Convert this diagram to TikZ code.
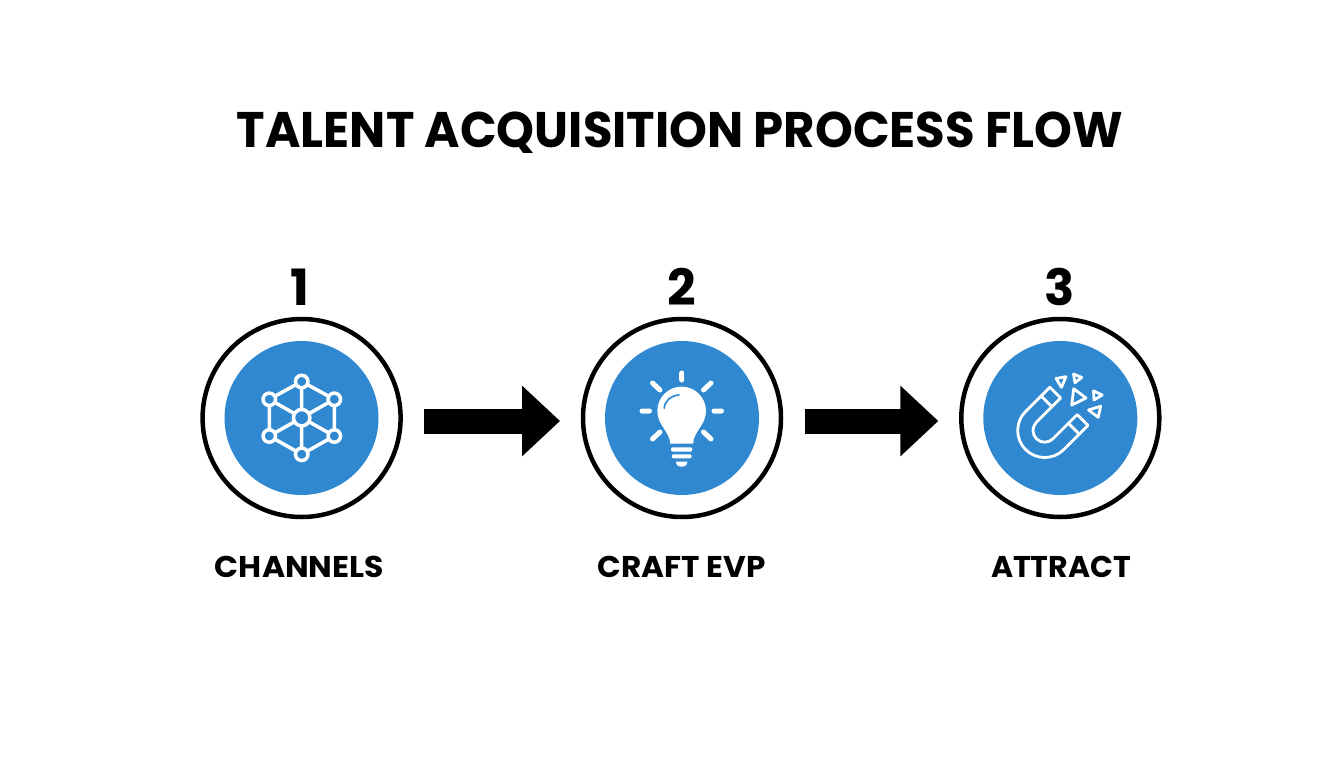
\documentclass[tikz,border=0pt]{standalone}
\usepackage{fontspec}
\setmainfont{Poppins}
\usetikzlibrary{arrows.meta,calc}
\definecolor{blu}{HTML}{2F88D0}
\tikzset{
 x=1pt,y=-1pt,
 ttl/.style={font=\fontsize{50}{50}\selectfont\bfseries,inner sep=0pt,anchor=base},
 num/.style={font=\fontsize{50}{50}\selectfont\bfseries,inner sep=0pt,anchor=base},
 lbl/.style={font=\fontsize{30}{30}\selectfont\bfseries,inner sep=0pt,anchor=base},
 ring/.style={circle,draw=black,line width=4.5pt,fill=white,minimum size=198pt,inner sep=0pt,outer sep=2.25pt},
 disc/.style={circle,fill=blu,minimum size=154pt,inner sep=0pt},
 flow/.style={line width=25pt,black,-{Triangle[length=38pt,width=68.3pt]}},
 ico/.style={draw=white,line width=3.5pt,line cap=round,line join=round},
 thin ico/.style={draw=white,line width=2.8pt,line cap=round,line join=round},
 dot/.style={circle,draw=white,fill=blu,line width=3.5pt,minimum size=12.5pt,inner sep=0pt},
 sol/.style={fill=white},
}
\begin{document}
\begin{tikzpicture}
\useasboundingbox (0,0) rectangle (1344,768);
\fill[white] (0,0) rectangle (1344,768);
\node[ttl] (title) at (680,147) {\scalebox{0.963}[1]{TALENT ACQUISITION PROCESS FLOW}};
\node[num] (n1) at (300,305) {1};
\node[num] (n2) at (682,305) {2};
\node[num] (n3) at (1060,305) {3};
\node[ring] (c1) at (301.6,418) {};
\node[ring] (c2) at (682,418) {};
\node[ring] (c3) at (1060.3,418) {};
\node[disc] (d1) at (301.5,418) {};
\node[disc] (d2) at (682,418) {};
\node[disc] (d3) at (1060.3,418) {};
\node[lbl] (l1) at (299.5,577) {\scalebox{1.05}[1]{CHANNELS}};
\node[lbl] (l2) at (681.5,577) {\scalebox{1.037}[1]{CRAFT EVP}};
\node[lbl] (l3) at (1061,577) {ATTRACT};
\draw[flow,shorten <=21.3pt,shorten >=20.7pt] ($(c1.east)+(0,3)$) -- ($(c2.west)+(0,3)$);
\draw[flow,shorten <=21.3pt,shorten >=20.7pt] ($(c2.east)+(0,3)$) -- ($(c3.west)+(0,3)$);
% network icon
\begin{scope}
\coordinate (t) at (301.7,381.5);\coordinate (ul) at (269.3,399.3);\coordinate (ur) at (334.3,399.3);
\coordinate (ll) at (269.3,436);\coordinate (lr) at (334.3,436);\coordinate (b) at (301.7,454.3);\coordinate (m) at (301.7,417.7);
\draw[ico] (t)--(ul)--(ll)--(b)--(lr)--(ur)--cycle (m)--(t) (m)--(ul) (m)--(ur) (m)--(ll) (m)--(lr) (m)--(b);
\foreach \p in {t,ul,ur,ll,lr,b} \node[dot] at (\p) {};
\node[dot,minimum size=16.5pt] at (m) {};
\end{scope}
% bulb icon
\begin{scope}
\draw[ico,line width=5pt] (681.7,373)--(681.7,380) (642,411)--(649.5,411) (714,411)--(721.5,411)
 (652.5,383)--(660,390) (711,383)--(703.5,390) (652.5,439)--(660,432) (711,439)--(703.5,432);
\fill[sol] (670.2,443.5) .. controls (670,432) and (657.3,425) .. (657.3,411) arc (180:360:24.35) .. controls (706,425) and (693.2,432) .. (693.2,443.5) -- cycle;
\draw[blu,line width=1.7pt,line cap=round] (664.3,408.3) .. controls (664.5,401) and (671,395.5) .. (679,395);
\fill[sol,rounded corners=2pt] (671,447.3) rectangle (692.3,451.7);
\fill[sol,rounded corners=2pt] (671.7,454.3) rectangle (691.7,458.3);
\fill[sol] (676,461.7) -- (687.3,461.7) .. controls (687.3,465) and (685,466.7) .. (681.7,466.7) .. controls (678,466.7) and (676,465) .. (676,461.7) -- cycle;
\end{scope}
% magnet icon
\begin{scope}[shift={(1044.7,430.5)},rotate=45]
\draw[thin ico] (34.2,-27) -- (0,-27) arc (270:90:27) -- (34.2,27) -- (34.2,11.7) -- (0,11.7) arc (90:270:11.7) -- (34.2,-11.7) -- cycle;
\draw[thin ico] (21.9,-27) -- (21.9,-11.7) (21.9,27) -- (21.9,11.7);
\end{scope}
\begin{scope}
\draw[thin ico] (1073.7,388.7) -- (1086,398) -- (1071.7,405.2) -- cycle;
\draw[thin ico] (1056,378.5) -- (1066,376.7) -- (1061.5,387.3) -- cycle;
\draw[thin ico] (1073.5,374) -- (1081.7,377.4) -- (1075,382.7) -- cycle;
\draw[thin ico] (1093.5,390.8) -- (1102.2,395) -- (1094,400) -- cycle;
\draw[thin ico] (1088.5,410) -- (1100.7,406.2) -- (1098.2,417.3) -- cycle;
\end{scope}
\end{tikzpicture}
\end{document}
